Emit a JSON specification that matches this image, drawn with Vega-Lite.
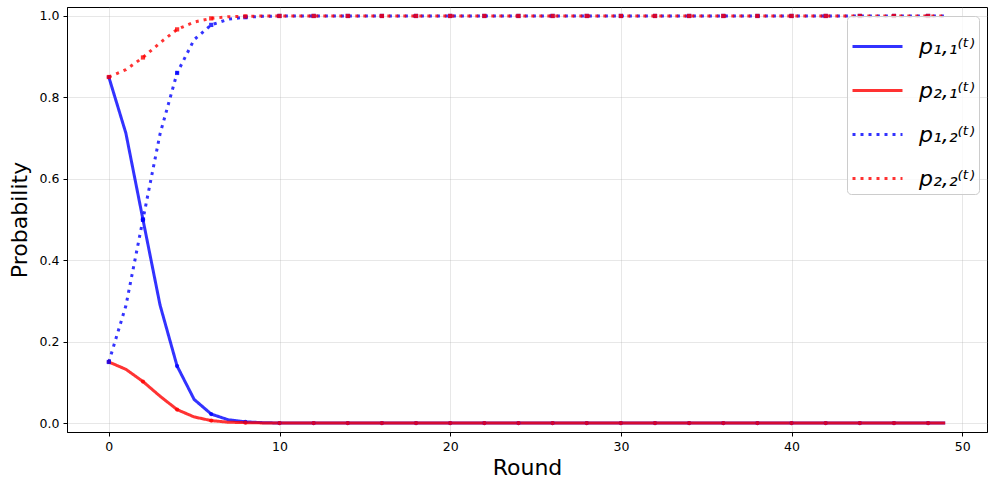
{
  "$schema": "https://vega.github.io/schema/vega-lite/v6.json",
  "width": 996,
  "height": 489,
  "autosize": {"type": "fit", "contains": "padding"},
  "padding": {"left": 8, "top": 7, "right": 9, "bottom": 10},
  "background": "white",
  "config": {
    "font": "DejaVu Sans",
    "view": {"stroke": "black", "strokeWidth": 1},
    "axis": {
      "labelFont": "DejaVu Sans",
      "titleFont": "DejaVu Sans",
      "labelFontSize": 12.5,
      "labelColor": "black",
      "titleFontSize": 22,
      "titleFontWeight": "normal",
      "titleColor": "black",
      "domainColor": "black",
      "tickColor": "black",
      "tickSize": 4,
      "gridColor": "#b0b0b0",
      "gridOpacity": 0.3,
      "gridWidth": 1
    }
  },
  "data": {"values": [
    {"round":0,"series":"p11","p":0.85},{"round":1,"series":"p11","p":0.712},{"round":2,"series":"p11","p":0.5},{"round":3,"series":"p11","p":0.29},{"round":4,"series":"p11","p":0.14},{"round":5,"series":"p11","p":0.058},{"round":6,"series":"p11","p":0.022},{"round":7,"series":"p11","p":0.008},{"round":8,"series":"p11","p":0.003},{"round":9,"series":"p11","p":0.001},
    {"round":10,"series":"p11","p":0},{"round":11,"series":"p11","p":0},{"round":12,"series":"p11","p":0},{"round":13,"series":"p11","p":0},{"round":14,"series":"p11","p":0},{"round":15,"series":"p11","p":0},{"round":16,"series":"p11","p":0},{"round":17,"series":"p11","p":0},{"round":18,"series":"p11","p":0},{"round":19,"series":"p11","p":0},
    {"round":20,"series":"p11","p":0},{"round":21,"series":"p11","p":0},{"round":22,"series":"p11","p":0},{"round":23,"series":"p11","p":0},{"round":24,"series":"p11","p":0},{"round":25,"series":"p11","p":0},{"round":26,"series":"p11","p":0},{"round":27,"series":"p11","p":0},{"round":28,"series":"p11","p":0},{"round":29,"series":"p11","p":0},
    {"round":30,"series":"p11","p":0},{"round":31,"series":"p11","p":0},{"round":32,"series":"p11","p":0},{"round":33,"series":"p11","p":0},{"round":34,"series":"p11","p":0},{"round":35,"series":"p11","p":0},{"round":36,"series":"p11","p":0},{"round":37,"series":"p11","p":0},{"round":38,"series":"p11","p":0},{"round":39,"series":"p11","p":0},
    {"round":40,"series":"p11","p":0},{"round":41,"series":"p11","p":0},{"round":42,"series":"p11","p":0},{"round":43,"series":"p11","p":0},{"round":44,"series":"p11","p":0},{"round":45,"series":"p11","p":0},{"round":46,"series":"p11","p":0},{"round":47,"series":"p11","p":0},{"round":48,"series":"p11","p":0},{"round":49,"series":"p11","p":0},

    {"round":0,"series":"p21","p":0.15},{"round":1,"series":"p21","p":0.132},{"round":2,"series":"p21","p":0.102},{"round":3,"series":"p21","p":0.066},{"round":4,"series":"p21","p":0.033},{"round":5,"series":"p21","p":0.015},{"round":6,"series":"p21","p":0.006},{"round":7,"series":"p21","p":0.002},{"round":8,"series":"p21","p":0.001},{"round":9,"series":"p21","p":0.0003},
    {"round":10,"series":"p21","p":0},{"round":11,"series":"p21","p":0},{"round":12,"series":"p21","p":0},{"round":13,"series":"p21","p":0},{"round":14,"series":"p21","p":0},{"round":15,"series":"p21","p":0},{"round":16,"series":"p21","p":0},{"round":17,"series":"p21","p":0},{"round":18,"series":"p21","p":0},{"round":19,"series":"p21","p":0},
    {"round":20,"series":"p21","p":0},{"round":21,"series":"p21","p":0},{"round":22,"series":"p21","p":0},{"round":23,"series":"p21","p":0},{"round":24,"series":"p21","p":0},{"round":25,"series":"p21","p":0},{"round":26,"series":"p21","p":0},{"round":27,"series":"p21","p":0},{"round":28,"series":"p21","p":0},{"round":29,"series":"p21","p":0},
    {"round":30,"series":"p21","p":0},{"round":31,"series":"p21","p":0},{"round":32,"series":"p21","p":0},{"round":33,"series":"p21","p":0},{"round":34,"series":"p21","p":0},{"round":35,"series":"p21","p":0},{"round":36,"series":"p21","p":0},{"round":37,"series":"p21","p":0},{"round":38,"series":"p21","p":0},{"round":39,"series":"p21","p":0},
    {"round":40,"series":"p21","p":0},{"round":41,"series":"p21","p":0},{"round":42,"series":"p21","p":0},{"round":43,"series":"p21","p":0},{"round":44,"series":"p21","p":0},{"round":45,"series":"p21","p":0},{"round":46,"series":"p21","p":0},{"round":47,"series":"p21","p":0},{"round":48,"series":"p21","p":0},{"round":49,"series":"p21","p":0},

    {"round":0,"series":"p12","p":0.15},{"round":1,"series":"p12","p":0.288},{"round":2,"series":"p12","p":0.5},{"round":3,"series":"p12","p":0.71},{"round":4,"series":"p12","p":0.86},{"round":5,"series":"p12","p":0.942},{"round":6,"series":"p12","p":0.978},{"round":7,"series":"p12","p":0.992},{"round":8,"series":"p12","p":0.997},{"round":9,"series":"p12","p":0.999},
    {"round":10,"series":"p12","p":1},{"round":11,"series":"p12","p":1},{"round":12,"series":"p12","p":1},{"round":13,"series":"p12","p":1},{"round":14,"series":"p12","p":1},{"round":15,"series":"p12","p":1},{"round":16,"series":"p12","p":1},{"round":17,"series":"p12","p":1},{"round":18,"series":"p12","p":1},{"round":19,"series":"p12","p":1},
    {"round":20,"series":"p12","p":1},{"round":21,"series":"p12","p":1},{"round":22,"series":"p12","p":1},{"round":23,"series":"p12","p":1},{"round":24,"series":"p12","p":1},{"round":25,"series":"p12","p":1},{"round":26,"series":"p12","p":1},{"round":27,"series":"p12","p":1},{"round":28,"series":"p12","p":1},{"round":29,"series":"p12","p":1},
    {"round":30,"series":"p12","p":1},{"round":31,"series":"p12","p":1},{"round":32,"series":"p12","p":1},{"round":33,"series":"p12","p":1},{"round":34,"series":"p12","p":1},{"round":35,"series":"p12","p":1},{"round":36,"series":"p12","p":1},{"round":37,"series":"p12","p":1},{"round":38,"series":"p12","p":1},{"round":39,"series":"p12","p":1},
    {"round":40,"series":"p12","p":1},{"round":41,"series":"p12","p":1},{"round":42,"series":"p12","p":1},{"round":43,"series":"p12","p":1},{"round":44,"series":"p12","p":1},{"round":45,"series":"p12","p":1},{"round":46,"series":"p12","p":1},{"round":47,"series":"p12","p":1},{"round":48,"series":"p12","p":1},{"round":49,"series":"p12","p":1},

    {"round":0,"series":"p22","p":0.85},{"round":1,"series":"p22","p":0.868},{"round":2,"series":"p22","p":0.898},{"round":3,"series":"p22","p":0.934},{"round":4,"series":"p22","p":0.967},{"round":5,"series":"p22","p":0.985},{"round":6,"series":"p22","p":0.994},{"round":7,"series":"p22","p":0.998},{"round":8,"series":"p22","p":0.999},{"round":9,"series":"p22","p":1},
    {"round":10,"series":"p22","p":1},{"round":11,"series":"p22","p":1},{"round":12,"series":"p22","p":1},{"round":13,"series":"p22","p":1},{"round":14,"series":"p22","p":1},{"round":15,"series":"p22","p":1},{"round":16,"series":"p22","p":1},{"round":17,"series":"p22","p":1},{"round":18,"series":"p22","p":1},{"round":19,"series":"p22","p":1},
    {"round":20,"series":"p22","p":1},{"round":21,"series":"p22","p":1},{"round":22,"series":"p22","p":1},{"round":23,"series":"p22","p":1},{"round":24,"series":"p22","p":1},{"round":25,"series":"p22","p":1},{"round":26,"series":"p22","p":1},{"round":27,"series":"p22","p":1},{"round":28,"series":"p22","p":1},{"round":29,"series":"p22","p":1},
    {"round":30,"series":"p22","p":1},{"round":31,"series":"p22","p":1},{"round":32,"series":"p22","p":1},{"round":33,"series":"p22","p":1},{"round":34,"series":"p22","p":1},{"round":35,"series":"p22","p":1},{"round":36,"series":"p22","p":1},{"round":37,"series":"p22","p":1},{"round":38,"series":"p22","p":1},{"round":39,"series":"p22","p":1},
    {"round":40,"series":"p22","p":1},{"round":41,"series":"p22","p":1},{"round":42,"series":"p22","p":1},{"round":43,"series":"p22","p":1},{"round":44,"series":"p22","p":1},{"round":45,"series":"p22","p":1},{"round":46,"series":"p22","p":1},{"round":47,"series":"p22","p":1},{"round":48,"series":"p22","p":1},{"round":49,"series":"p22","p":1}
  ]},
  "encoding": {
    "x": {
      "field": "round", "type": "quantitative",
      "scale": {"domain": [-2.45, 51.45], "nice": false, "zero": false},
      "axis": {"title": "Round", "values": [0, 10, 20, 30, 40, 50], "format": "d", "labelPadding": 4, "titlePadding": 5}
    },
    "y": {
      "field": "p", "type": "quantitative",
      "scale": {"domain": [-0.022, 1.022], "nice": false, "zero": false},
      "axis": {"title": "Probability", "values": [0, 0.2, 0.4, 0.6, 0.8, 1.0], "format": ".1f", "labelPadding": 4, "titlePadding": 8}
    }
  },
  "layer": [
    {
      "mark": {"type": "line", "strokeWidth": 3, "opacity": 0.8},
      "encoding": {
        "detail": {"field": "series"},
        "order": {"field": "round"},
        "stroke": {
          "field": "series", "type": "nominal",
          "scale": {"domain": ["p11", "p21", "p12", "p22"], "range": ["blue", "red", "blue", "red"]},
          "legend": {
            "title": null,
            "orient": "none",
            "legendX": 780,
            "legendY": 9,
            "labelExpr": "datum.value == 'p11' ? 'p₁,₁⁽ᵗ⁾' : datum.value == 'p21' ? 'p₂,₁⁽ᵗ⁾' : datum.value == 'p12' ? 'p₁,₂⁽ᵗ⁾' : 'p₂,₂⁽ᵗ⁾'",
            "labelFont": "DejaVu Sans",
            "labelFontSize": 22,
            "labelFontStyle": "italic",
            "labelColor": "black",
            "labelOffset": 15,
            "symbolType": "stroke",
            "symbolSize": 2500,
            "symbolStrokeWidth": 3,
            "symbolOpacity": 0.8,
            "rowPadding": 6,
            "padding": 4,
            "strokeColor": "#cccccc",
            "cornerRadius": 4,
            "fillColor": "rgba(255,255,255,0.8)"
          }
        },
        "strokeDash": {
          "field": "series", "type": "nominal",
          "scale": {"domain": ["p11", "p21", "p12", "p22"], "range": [[1, 0], [1, 0], [3, 5], [3, 5]]}
        }
      }
    },
    {
      "transform": [{"filter": "datum.round % 2 == 0 && datum.series == 'p11'"}],
      "mark": {"type": "point", "shape": "circle", "filled": true, "color": "blue", "opacity": 0.8, "size": 18},
      "encoding": {}
    },
    {
      "transform": [{"filter": "datum.round % 2 == 0 && datum.series == 'p21'"}],
      "mark": {"type": "point", "shape": "circle", "filled": true, "color": "red", "opacity": 0.8, "size": 18},
      "encoding": {}
    },
    {
      "transform": [{"filter": "datum.round % 2 == 0 && datum.series == 'p12'"}],
      "mark": {"type": "point", "shape": "square", "filled": true, "color": "blue", "opacity": 0.8, "size": 18},
      "encoding": {}
    },
    {
      "transform": [{"filter": "datum.round % 2 == 0 && datum.series == 'p22'"}],
      "mark": {"type": "point", "shape": "square", "filled": true, "color": "red", "opacity": 0.8, "size": 18},
      "encoding": {}
    }
  ]
}
